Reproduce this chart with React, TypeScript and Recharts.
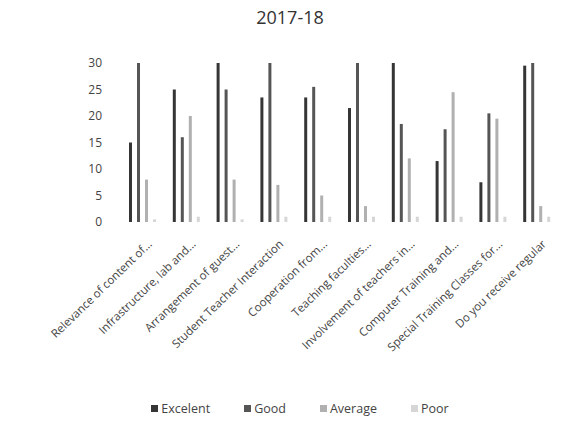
import { Bar, BarChart, XAxis, YAxis } from "recharts";

const categories = [
  "Relevance of content of...",
  "Infrastructure, lab and...",
  "Arrangement of guest...",
  "Student Teacher Interaction",
  "Cooperation from...",
  "Teaching faculties...",
  "Involvement of teachers in...",
  "Computer Training and...",
  "Special Training Classes for...",
  "Do you receive regular",
];

const excelent = [15, 25, 30, 23.5, 23.5, 21.5, 30, 11.5, 7.5, 29.5];
const good = [30, 16, 25, 30, 25.5, 30, 18.5, 17.5, 20.5, 30];
const average = [8, 20, 8, 7, 5, 3, 12, 24.5, 19.5, 3];
const poor = [0.5, 1, 0.5, 1, 1, 1, 1, 1, 1, 1];

const yTicks = [0, 5, 10, 15, 20, 25, 30];

const series = [
  { key: "excelent", name: "Excelent", color: "#353535" },
  { key: "good", name: "Good", color: "#555555" },
  { key: "average", name: "Average", color: "#b0b0b0" },
  { key: "poor", name: "Poor", color: "#d6d6d6" },
];

const data = categories.map((name, i) => ({
  name,
  excelent: excelent[i],
  good: good[i],
  average: average[i],
  poor: poor[i],
}));

const font = "'Open Sans', 'DejaVu Sans', sans-serif";

function CatTick(props: any) {
  const { x, y, payload } = props;
  return (
    <g transform={`translate(${x + 7},${y + 12})`}>
      <text
        transform="rotate(-44)"
        textAnchor="end"
        fontSize={11.5}
        fill="#444"
        fontFamily={font}
        dy={4}
      >
        {payload.value}
      </text>
    </g>
  );
}

export default function App() {
  return (
    <div style={{ position: "absolute", left: 0, top: 0, width: 565, height: 432, background: "#fff", fontFamily: font }}>
      <div style={{ position: "absolute", left: 0, top: 5, width: 580, textAlign: "center", fontSize: 18, color: "#333" }}>
        2017-18
      </div>
      <BarChart
        width={565}
        height={432}
        data={data}
        margin={{ top: 63, right: 6, bottom: 30, left: 0 }}
        barSize={3}
        barGap={5}
      >
        <XAxis
          dataKey="name"
          axisLine={false}
          tickLine={false}
          interval={0}
          height={180}
          tick={<CatTick />}
        />
        <YAxis
          width={121}
          domain={[0, 30]}
          ticks={yTicks}
          axisLine={false}
          tickLine={false}
          tickMargin={13}
          tick={{ fontSize: 12, fill: "#444", fontFamily: font }}
        />
        {series.map((s) => (
          <Bar key={s.key} dataKey={s.key} name={s.name} fill={s.color} isAnimationActive={false} />
        ))}
      </BarChart>
      <div
        style={{
          position: "absolute",
          top: 400,
          left: 0,
          width: 600,
          display: "flex",
          justifyContent: "center",
          gap: 34,
          fontSize: 12.5,
          color: "#444",
        }}
      >
        {series.map((s) => (
          <span key={s.key} style={{ display: "flex", alignItems: "center" }}>
            <span style={{ display: "inline-block", width: 7, height: 7, background: s.color, marginRight: 3 }} />
            {s.name}
          </span>
        ))}
      </div>
    </div>
  );
}
